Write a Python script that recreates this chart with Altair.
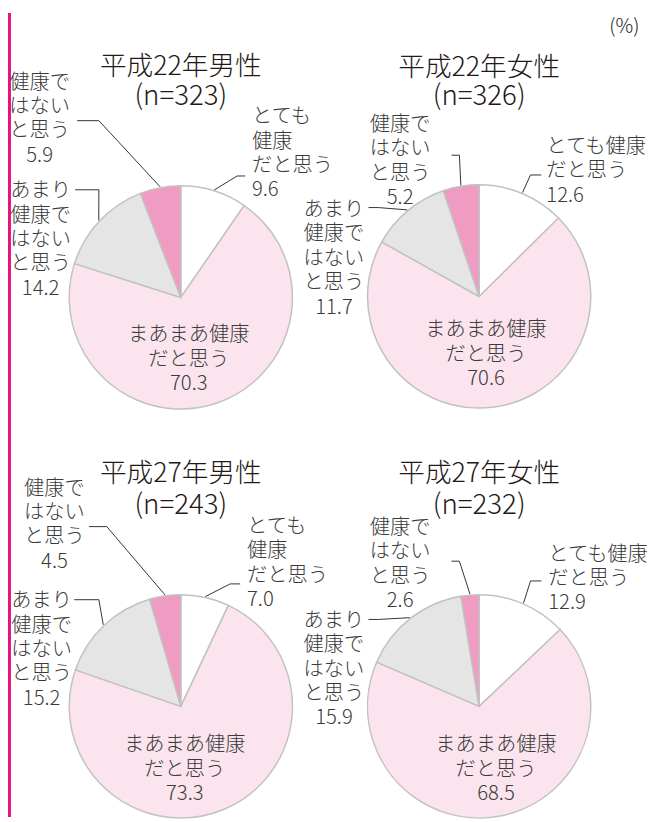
import math
import altair as alt
import pandas as pd

# ---------------- data ----------------
panel_titles = ["平成22年男性", "平成22年女性", "平成27年男性", "平成27年女性"]
n_values = [323, 326, 243, 232]
categories = ["とても健康だと思う", "まあまあ健康だと思う", "あまり健康ではないと思う", "健康ではないと思う"]
h22_male = [9.6, 70.3, 14.2, 5.9]
h22_female = [12.6, 70.6, 11.7, 5.2]
h27_male = [7.0, 73.3, 15.2, 4.5]
h27_female = [12.9, 68.5, 15.9, 2.6]
series = [h22_male, h22_female, h27_male, h27_female]
unit_label = "(%)"

# label text split in lines (narrow vs wide placement)
label_lines_narrow = [["とても", "健康", "だと思う"], ["まあまあ健康", "だと思う"],
                      ["あまり", "健康で", "はない", "と思う"], ["健康で", "はない", "と思う"]]
label_lines_wide = [["とても健康", "だと思う"], ["まあまあ健康", "だと思う"],
                    ["あまり", "健康で", "はない", "と思う"], ["健康で", "はない", "と思う"]]
panel_label_lines = [label_lines_narrow, label_lines_wide, label_lines_narrow, label_lines_wide]

colors = ["#ffffff", "#fbe4ee", "#e5e5e5", "#f09cc2"]

# ---------------- layout (page pixels) ----------------
W, H = 652, 814
R = 113
FS = 20.5
LH = 24.7
TOP_SHIFT = 8.5  # first line centre -> 'top' baseline anchor
centers = [(183, 296), (485, 295), (183, 710), (485, 710)]
title_y = [(63, 93), (64, 93), (475, 507), (475, 507)]
# per panel, per category: text x, first line centre y, align, elbow, end x
label_layout = [
    [(255, 112, "left", (240, 173), 248), (191, 333, "center", None, None),
     (41, 187, "center", (100, 187), 76), (40, 77, "center", (100, 117), 78)],
    [(553, 142, "left", (537, 172), 548), (492, 328, "center", None, None),
     (338, 206, "center", (383, 205), 373), (405, 120, "center", (465, 152), 457)],
    [(250, 527, "left", (233, 586), 243), (187, 748, "center", None, None),
     (42, 602, "center", (100, 602), 75), (55, 488, "center", (108, 528), 90)],
    [(555, 555, "left", (537, 583), 548), (502, 748, "center", None, None),
     (338, 622, "center", (383, 622), 373), (405, 528, "center", (465, 563), 457)],
]

# ---------------- tables ----------------
slice_rows, text_rows, line_rows, title_rows = [], [], [], []
for p, vals in enumerate(series):
    cx, cy = centers[p]
    total = sum(vals)
    cum = 0.0
    for c, v in enumerate(vals):
        slice_rows.append(dict(panel=p, cat=categories[c], order=c, value=v, cx=cx, cy=cy))
        mid = (cum + v / 2) / total * 2 * math.pi
        cum += v
        tx, ty, align, elbow, endx = label_layout[p][c]
        lines = panel_label_lines[p][c] + [f"{v:.1f}"]
        text_rows.append(dict(x=tx, y=ty - TOP_SHIFT, t="|".join(lines), align=align))
        if elbow is not None:
            sx = cx + (R + 1) * math.sin(mid)
            sy = cy - (R + 1) * math.cos(mid)
            lid = f"{p}-{c}"
            for k, (px, py) in enumerate([(sx, sy), elbow, (endx, elbow[1])]):
                line_rows.append(dict(lid=lid, k=k, x=px, y=py))
    title_rows.append(dict(x=cx, y=title_y[p][0], t=panel_titles[p], s=27))
    title_rows.append(dict(x=cx, y=title_y[p][1], t=f"(n={n_values[p]})", s=28))

slices = pd.DataFrame(slice_rows)
texts = pd.DataFrame(text_rows)
leaders = pd.DataFrame(line_rows)
titles = pd.DataFrame(title_rows)
unit = pd.DataFrame([dict(x=632, y=22, t=unit_label)])

xs = alt.Scale(domain=[8, 8 + W], range=[0, W])
ys = alt.Scale(domain=[8, 8 + H], range=[0, H])
FONT = "Noto Sans CJK JP"

pies = alt.Chart(slices).transform_joinaggregate(
    total="sum(value)", groupby=["panel"]
).transform_window(
    cum="sum(value)", groupby=["panel"], sort=[alt.SortField("order")], frame=[None, 0]
).transform_calculate(
    t0="(datum.cum - datum.value) / datum.total * 100",
    t1="datum.cum / datum.total * 100",
).mark_arc(outerRadius=R, stroke="#c2c2c2", strokeWidth=1.5).encode(
    x=alt.X("cx:Q", scale=xs, axis=None),
    y=alt.Y("cy:Q", scale=ys, axis=None),
    theta=alt.Theta("t0:Q", scale=alt.Scale(domain=[0, 100], range=[0, 2 * math.pi]), stack=False),
    theta2="t1:Q",
    color=alt.Color("cat:N", scale=alt.Scale(domain=categories, range=colors), legend=None),
)

lines_layer = alt.Chart(leaders).mark_line(color="#333333", strokeWidth=1).encode(
    x=alt.X("x:Q", scale=xs, axis=None),
    y=alt.Y("y:Q", scale=ys, axis=None),
    detail="lid:N",
    order="k:Q",
)

def text_layer(align):
    return alt.Chart(texts).transform_filter(alt.datum.align == align).transform_calculate(
        lines="split(datum.t, '|')"
    ).mark_text(
        font=FONT, fontSize=FS, fontWeight=300, lineHeight=LH, align=align, baseline="top",
        color="#3a3a3a"
    ).encode(
        x=alt.X("x:Q", scale=xs, axis=None),
        y=alt.Y("y:Q", scale=ys, axis=None),
        text="lines:N",
    )

title_layer = alt.Chart(titles).mark_text(
    font=FONT, fontWeight=300, align="center", baseline="middle", color="#231815"
).encode(
    x=alt.X("x:Q", scale=xs, axis=None),
    y=alt.Y("y:Q", scale=ys, axis=None),
    text="t:N",
    size=alt.Size("s:Q", scale=None, legend=None),
)

unit_layer = alt.Chart(unit).mark_text(
    font=FONT, fontSize=20, fontWeight=300, align="center", baseline="middle", color="#231815"
).encode(
    x=alt.X("x:Q", scale=xs, axis=None),
    y=alt.Y("y:Q", scale=ys, axis=None),
    text="t:N",
)

bar = alt.Chart(pd.DataFrame({"a": [0]})).mark_rect(color="#e6137f").encode(
    x=alt.value(0), x2=alt.value(3), y=alt.value(0), y2=alt.value(H)
)

chart = alt.layer(
    bar, pies, lines_layer, text_layer("left"), text_layer("center"), title_layer, unit_layer
).properties(
    width=W, height=H, padding=0, autosize=alt.AutoSizeParams(type="none")
).configure_view(stroke=None)

chart.save("out.html", embed_options={"renderer": "svg", "actions": False})
